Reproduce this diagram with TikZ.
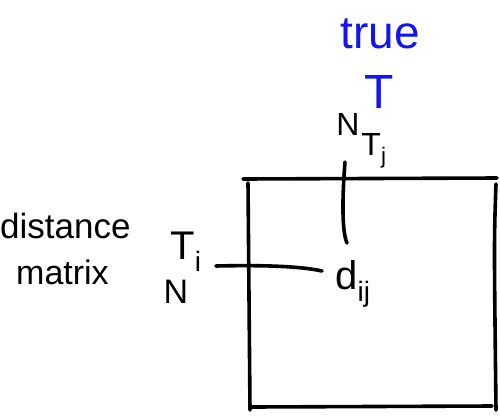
\documentclass[tikz,border=0pt]{standalone}
\usepackage{fontspec}
\setmainfont{Liberation Sans}
\definecolor{pen}{RGB}{0,0,0}
\definecolor{bluepen}{RGB}{20,20,240}
\begin{document}
\begin{tikzpicture}[x=1pt,y=-1pt,
  stroke/.style={line width=3.6pt,line cap=round,line join=round,draw=pen},
  lbl/.style={inner sep=0pt,text=pen,font=\fontsize{#1}{#1}\selectfont},
  bluelbl/.style={inner sep=0pt,text=bluepen,font=\fontsize{#1}{#1}\selectfont}]
\useasboundingbox (0,0) rectangle (500,418);
% matrix box (hand drawn lines)
\coordinate (tl) at (243,179);
\coordinate (tr) at (497,178);
\coordinate (l1) at (248,183);
\coordinate (l2) at (250,410);
\coordinate (b1) at (252,407);
\coordinate (b2) at (492,406);
\coordinate (r1) at (496,184);
\coordinate (r2) at (496,410);
\draw[stroke] (tl) -- (tr);
\draw[stroke] (l1) -- (l2);
\draw[stroke] (b1) -- (b2);
\draw[stroke] (r1) .. controls (494,240) .. (r2);
% labels
\node[bluelbl=46] (true) at (380,34) {true};
\node[bluelbl=48] (T) at (379,92) {T};
\node[lbl=32] (Nj) at (348,124) {N};
\node[lbl=32] (Tj) at (374,151) {T\textsubscript{j}};
\node[lbl=35,anchor=west] (dist) at (0,226) {distance};
\node[lbl=34,anchor=west] (mat) at (16,272) {matrix};
\node[lbl=40] (Ti) at (186,252) {T\textsubscript{i}};
\node[lbl=34] (Ni) at (176,292) {N};
\node[lbl=40] (dij) at (353,284) {d\textsubscript{ij}};
% connectors
\coordinate (vtop) at (345,162);
\coordinate (vbot) at (347,243);
\draw[stroke] (vtop) .. controls (342,200) and (342,232) .. (vbot);
\coordinate (hl) at (216,266);
\coordinate (hr) at (322,271);
\draw[stroke] (hl) .. controls (260,265) and (300,266) .. (hr);
\end{tikzpicture}
\end{document}
